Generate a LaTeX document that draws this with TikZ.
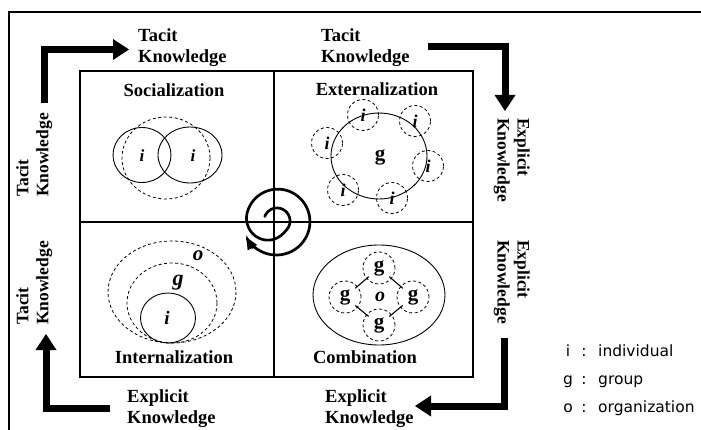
\documentclass[tikz,border=0pt]{standalone}
\usepackage{fontspec}
\setmainfont{Liberation Serif}
\newfontfamily\legendfont{DejaVu Sans}
\usetikzlibrary{arrows.meta,shapes.geometric}
\begin{document}
\begin{tikzpicture}[x=1pt,y=-1pt,
  declare function={sr(\s)=13+9*(1-cos(180*min(max((\s-200)/160,0),1)))+0.012*max(\s-360,0);},
  frameline/.style={line width=2pt},
  boxline/.style={line width=1.1pt},
  thickarrow/.style={line width=7pt, line join=miter, -{Triangle[length=16pt,width=21pt,line width=0pt]}},
  lab/.style={font=\fontsize{18.5}{21}\selectfont\bfseries, inner sep=0pt, align=left},
  vlab/.style={font=\fontsize{17.5}{20}\selectfont\bfseries, inner sep=0pt, align=left},
  qlab/.style={font=\fontsize{18.5}{22}\selectfont\bfseries, inner sep=0pt},
  dsh/.style={dash pattern=on 3pt off 2.5pt, line width=0.8pt},
  sol/.style={line width=0.9pt},
  itl/.style={font=\fontsize{17}{20}\selectfont\bfseries\itshape, inner sep=0pt},
  gl/.style={font=\fontsize{21}{24}\selectfont\bfseries, inner sep=0pt},
  icirc/.style={draw, circle, dsh, minimum size=31pt, inner sep=0pt, font=\fontsize{18}{20}\selectfont\bfseries\itshape},
  gcirc/.style={draw, circle, dsh, minimum size=32pt, inner sep=0pt, font=\fontsize{21}{24}\selectfont\bfseries},
  legend/.style={font=\legendfont\fontsize{15.5}{18}\selectfont, inner sep=0pt, anchor=base}
]
\useasboundingbox (0,0) rectangle (701,430);
% outer frame
\draw[frameline] (8,12) -- (701,12);
\draw[frameline] (9,11) -- (9,430);
% main box
\draw[boxline] (80,71) rectangle (473,377);
\draw[boxline] (274,71) -- (274,377);
\draw[boxline] (80,222) -- (473,222);
% quadrant titles
\node[qlab] (soc) at (174,90) {Socialization};
\node[qlab] (ext) at (377,89) {Externalization};
\node[qlab] (int) at (174,357) {Internalization};
\node[qlab] (com) at (365,357) {Combination};
% outer labels
\node[lab, anchor=north west] (tk1) at (138,28) {Tacit\\Knowledge};
\node[lab, anchor=north west] (tk2) at (321,28) {Tacit\\Knowledge};
\node[lab, anchor=north west] (ek1) at (127,389) {Explicit\\Knowledge};
\node[lab, anchor=north west] (ek2) at (325,389) {Explicit\\Knowledge};
\node[vlab, rotate=90, anchor=north west] (tk3) at (16,197) {Tacit\\Knowledge};
\node[vlab, rotate=90, anchor=north west] (tk4) at (16,325) {Tacit\\Knowledge};
\node[vlab, rotate=-90, anchor=north west] (ek3) at (530,118) {Explicit\\Knowledge};
\node[vlab, rotate=-90, anchor=north west] (ek4) at (530,240) {Explicit\\Knowledge};
% thick L arrows
\coordinate (a1s) at (44,103); \coordinate (a1e) at (129,49.5);
\coordinate (a2s) at (428,46.5); \coordinate (a2e) at (505,111);
\coordinate (a3s) at (504,338); \coordinate (a3e) at (415,406);
\coordinate (a4s) at (110,408.5); \coordinate (a4e) at (46,334);
\draw[thickarrow] (a1s) |- (a1e);
\draw[thickarrow] (a2s) -| (a2e);
\draw[thickarrow] (a3s) |- (a3e);
\draw[thickarrow] (a4s) -| (a4e);
% Socialization
\draw[sol] (142,155) ellipse [x radius=29, y radius=27.5];
\draw[sol] (190,155) ellipse [x radius=32, y radius=28];
\draw[dsh] (166,158) ellipse [x radius=44, y radius=41];
\node[itl] (si1) at (142,156) {i};
\node[itl] (si2) at (193,156) {i};
% Externalization
\draw[sol] (379,156) ellipse [x radius=48, y radius=43];
\node[gl] (eg) at (380,157) {g};
\node[icirc] (e1) at (363,115) {i};
\node[icirc] (e2) at (415,121) {i};
\node[icirc] (e3) at (327,143) {i};
\node[icirc] (e4) at (428,166) {i};
\node[icirc] (e5) at (343,190) {i};
\node[icirc] (e6) at (392,198) {i};
% Internalization
\draw[dsh] (172,292) ellipse [x radius=64, y radius=51];
\draw[dsh] (172,303) ellipse [x radius=45, y radius=40];
\draw[sol] (168,318) ellipse [x radius=27.5, y radius=25];
\node[itl, font=\fontsize{21}{24}\selectfont\bfseries\itshape] (io) at (198,256) {o};
\node[itl, font=\fontsize{22}{24}\selectfont\bfseries\itshape] (ig) at (178,283) {g};
\node[itl, font=\fontsize{19}{22}\selectfont\bfseries\itshape] (ii) at (167,318) {i};
% Combination
\draw[sol] (379,295) ellipse [x radius=66, y radius=50];
\node[gcirc] (gt) at (379,268) {g};
\node[gcirc] (gL) at (345,297) {g};
\node[gcirc] (gR) at (413,297) {g};
\node[gcirc] (gB) at (379,325) {g};
\node[itl, font=\fontsize{20}{24}\selectfont\bfseries\itshape] (co) at (380,297) {o};
\draw[line width=1.1pt, shorten <=-3pt, shorten >=-3pt] (gt) -- (gL);
\draw[line width=1.1pt, shorten <=-3pt, shorten >=-3pt] (gt) -- (gR);
\draw[line width=1.1pt, shorten <=-3pt, shorten >=-3pt] (gB) -- (gL);
\draw[line width=1.1pt, shorten <=-3pt, shorten >=-3pt] (gB) -- (gR);
% spiral
\draw[line width=2.7pt, line cap=round, -{Triangle[length=12pt,width=11pt,line width=0pt]}]
  plot[domain=0:672, samples=170, smooth] ({277+sr(\x)*cos(160-\x)}, {221-sr(\x)*sin(160-\x)});
% legend
\node[legend] (li) at (568,356) {i};
\node[legend] (lc1) at (584,356) {:};
\node[legend, anchor=base west] (lw1) at (598,356) {individual};
\node[legend] (lg) at (568,384) {g};
\node[legend] (lc2) at (584,384) {:};
\node[legend, anchor=base west] (lw2) at (598,384) {group};
\node[legend] (lo) at (568,412) {o};
\node[legend] (lc3) at (584,412) {:};
\node[legend, anchor=base west] (lw3) at (598,412) {organization};
\end{tikzpicture}
\end{document}
